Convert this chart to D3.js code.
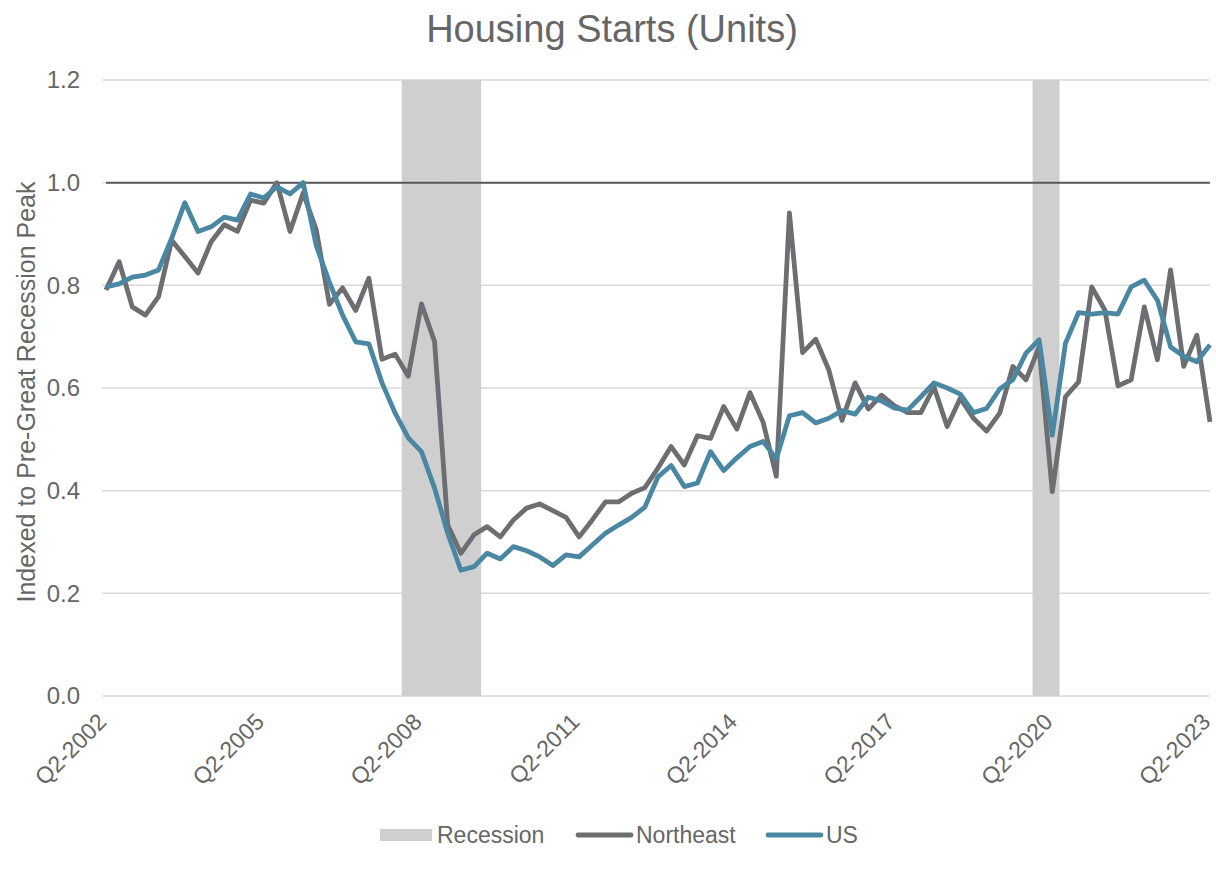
<!DOCTYPE html>
<html>
<head>
<meta charset="utf-8">
<script src="https://cdn.jsdelivr.net/npm/d3@7"></script>
<style>
  body { margin: 0; background: #fff; }
  text { font-family: "Liberation Sans", Arial, sans-serif; fill: #666666; }
</style>
</head>
<body>
<svg id="chart"></svg>
<script>
// quarterly values, Q2-2002 .. Q2-2023
const northeast = [0.791,0.846,0.758,0.742,0.778,0.888,0.856,0.824,0.885,0.918,
  0.905,0.966,0.960,1.0,0.905,0.98,0.908,0.763,0.795,0.751,
  0.814,0.656,0.666,0.623,0.764,0.690,0.333,0.278,0.314,0.330,
  0.310,0.343,0.366,0.374,0.361,0.348,0.310,0.343,0.378,0.378,
  0.395,0.406,0.444,0.486,0.450,0.507,0.502,0.564,0.520,0.591,
  0.533,0.428,0.941,0.669,0.695,0.635,0.537,0.610,0.559,0.586,
  0.565,0.552,0.552,0.602,0.525,0.580,0.541,0.516,0.551,0.642,
  0.616,0.680,0.398,0.583,0.612,0.797,0.752,0.604,0.616,0.758,
  0.655,0.830,0.642,0.703,0.534];
const us = [0.797,0.803,0.816,0.820,0.830,0.892,0.961,0.905,0.914,0.933,
  0.927,0.978,0.970,0.992,0.978,1.0,0.877,0.806,0.742,0.690,
  0.686,0.610,0.551,0.503,0.476,0.405,0.317,0.245,0.252,0.278,
  0.267,0.291,0.283,0.271,0.254,0.275,0.271,0.294,0.317,0.333,
  0.348,0.368,0.427,0.449,0.408,0.415,0.476,0.439,0.464,0.486,
  0.496,0.462,0.546,0.552,0.532,0.541,0.556,0.549,0.582,0.575,
  0.561,0.557,0.583,0.610,0.600,0.588,0.552,0.560,0.598,0.616,
  0.668,0.694,0.508,0.687,0.747,0.744,0.747,0.744,0.797,0.810,
  0.771,0.680,0.662,0.651,0.684];
// recession quarters (index into the quarter list)
const recessionQuarters = [23,24,25,26,27,28,71,72];
const recessionValue = 1.2;
const yTicks = [0,0.2,0.4,0.6,0.8,1.0,1.2];
const peakLine = 1.0;

const quarters = northeast.map((d,i)=>{
  let q = 2 + i;             // starting at Q2
  let year = 2002 + Math.floor((q-1)/4);
  let qq = ((q-1)%4)+1;
  return `Q${qq}-${year}`;
});
const tickLabels = quarters.filter((d,i)=>i%12===0);

const WIDTH = 1216, HEIGHT = 872;
const MARGIN = {left:106, right:6, top:80, bottom:176};
const TEXT_COLOR = '#666666';

const svg = d3.select('#chart').attr('width',WIDTH).attr('height',HEIGHT);

const xScale = d3.scalePoint()
  .domain(quarters)
  .range([MARGIN.left, WIDTH-MARGIN.right]);
const step = xScale.step();
const yScale = d3.scaleLinear()
  .domain([0,1.2])
  .range([HEIGHT-MARGIN.bottom, MARGIN.top]);

// title
svg.append('text')
  .attr('x', 612).attr('y', 42)
  .attr('text-anchor','middle')
  .attr('font-size','38px')
  .text('Housing Starts (Units)');

// gridlines
svg.append('g').selectAll('line')
  .data(yTicks)
  .join('line')
  .attr('x1', MARGIN.left-4).attr('x2', WIDTH-MARGIN.right)
  .attr('y1', d=>yScale(d)).attr('y2', d=>yScale(d))
  .attr('stroke','#d9d9d9').attr('stroke-width',1.5);

// recession bars
svg.append('g').selectAll('rect')
  .data(recessionQuarters)
  .join('rect')
  .attr('x', d=>xScale(quarters[d]) - step/2)
  .attr('width', step+0.6)
  .attr('y', yScale(recessionValue))
  .attr('height', yScale(0)-yScale(recessionValue))
  .attr('fill','#cfcfcf');

// y axis labels
const yAxis = svg.append('g')
  .attr('transform',`translate(83,0)`)
  .call(d3.axisLeft(yScale).tickValues(yTicks).tickFormat(d3.format('.1f')).tickSize(0));
yAxis.select('.domain').remove();
yAxis.selectAll('text')
  .attr('font-size','24px')
  .attr('font-family','"Liberation Sans", Arial, sans-serif')
  .attr('fill',TEXT_COLOR);

svg.append('text')
  .attr('transform',`translate(35, 392) rotate(-90)`)
  .attr('text-anchor','middle')
  .attr('font-size','25px')
  .text('Indexed to Pre-Great Recession Peak');

// x axis labels
const xAxis = svg.append('g')
  .attr('transform',`translate(0, ${yScale(0)})`)
  .call(d3.axisBottom(xScale).tickValues(tickLabels).tickSize(0));
xAxis.select('.domain').remove();
xAxis.selectAll('text')
  .attr('font-size','23px')
  .attr('font-family','"Liberation Sans", Arial, sans-serif')
  .attr('fill',TEXT_COLOR)
  .attr('text-anchor','end')
  .attr('dy',null)
  .attr('y',0)
  .attr('transform','translate(-3,23) rotate(-45)')
  .attr('dominant-baseline','middle');

// 1.0 reference line
svg.append('line')
  .attr('x1', MARGIN.left).attr('x2', WIDTH-MARGIN.right)
  .attr('y1', yScale(peakLine)).attr('y2', yScale(peakLine))
  .attr('stroke','#595959').attr('stroke-width',2);

const line = d3.line()
  .x((d,i)=>xScale(quarters[i]))
  .y(d=>yScale(d));

svg.append('path')
  .datum(northeast)
  .attr('d', line)
  .attr('fill','none')
  .attr('stroke','#6d6e71')
  .attr('stroke-width',4.8)
  .attr('stroke-linejoin','round');

svg.append('path')
  .datum(us)
  .attr('d', line)
  .attr('fill','none')
  .attr('stroke','#4a87a3')
  .attr('stroke-width',4.8)
  .attr('stroke-linejoin','round');

// legend
const legend = svg.append('g').attr('transform','translate(0,835)');
const items = [
  {name:'Recession', type:'rect', color:'#cfcfcf', x:380},
  {name:'Northeast', type:'line', color:'#6d6e71', x:578},
  {name:'US', type:'line', color:'#4a87a3', x:768}
];
items.forEach(it=>{
  if(it.type==='rect'){
    legend.append('rect').attr('x',it.x).attr('y',-6).attr('width',52).attr('height',12).attr('fill',it.color);
  } else {
    legend.append('line').attr('x1',it.x).attr('x2',it.x+53).attr('y1',0).attr('y2',0)
      .attr('stroke',it.color).attr('stroke-width',4.8).attr('stroke-linecap','round');
  }
  legend.append('text').attr('x',it.x+(it.type==='rect'?57:58)).attr('y',0)
    .attr('dominant-baseline','central')
    .attr('font-size','23px')
    .text(it.name);
});
</script>
</body>
</html>
